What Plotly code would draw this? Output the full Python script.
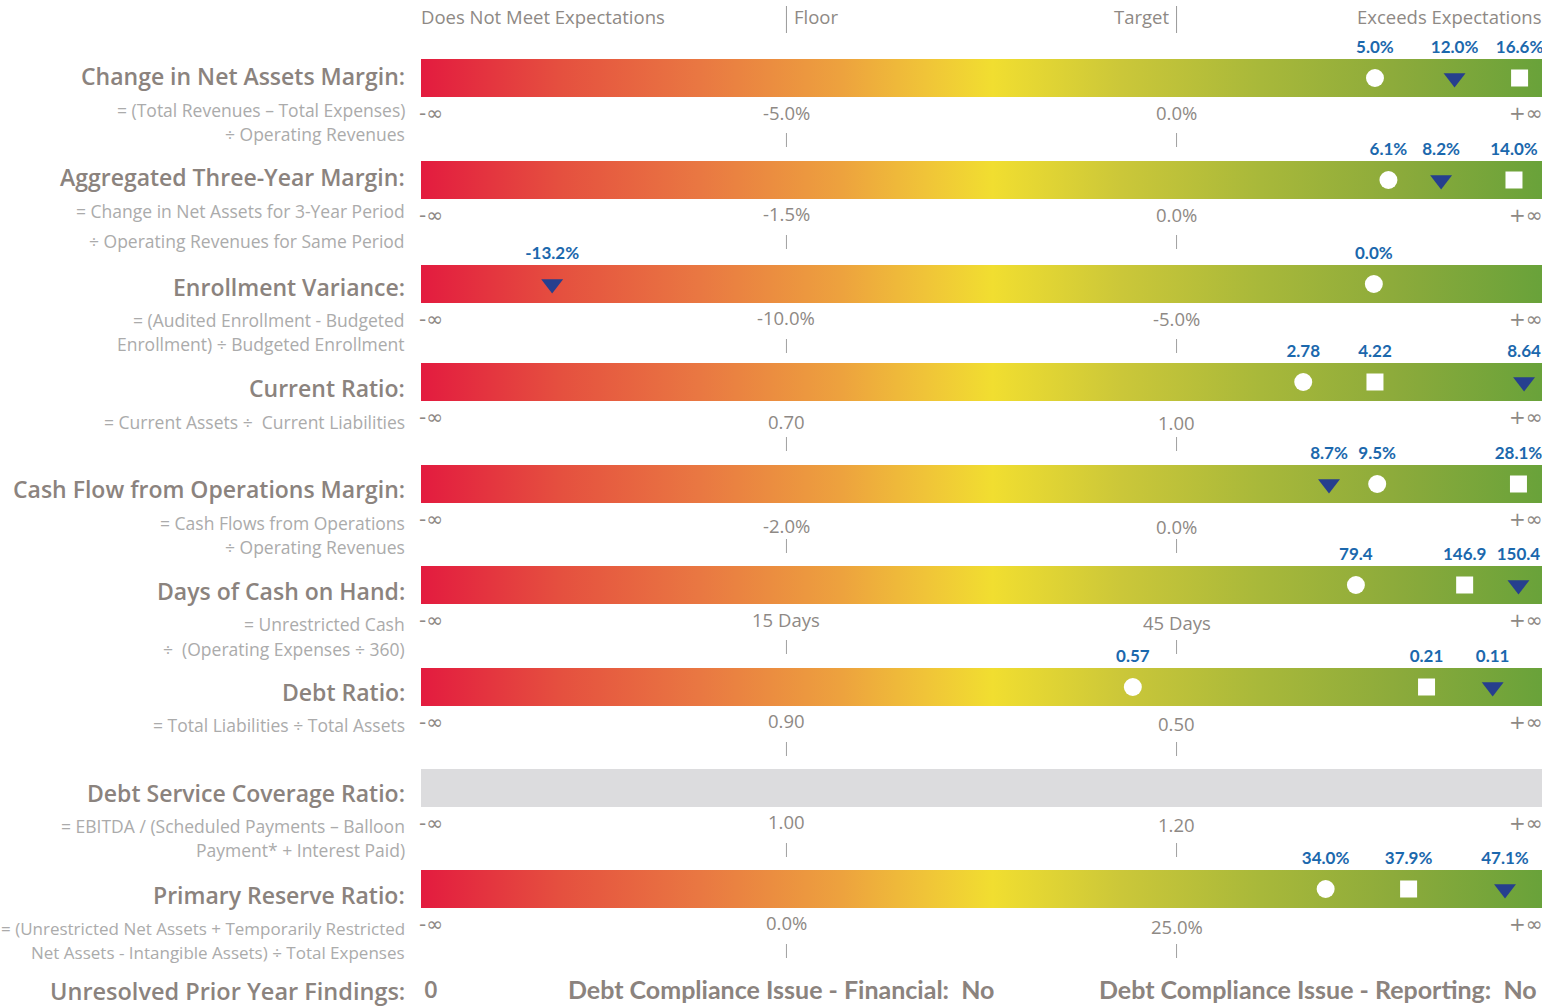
import plotly.graph_objects as go

# ---------------- data ----------------
metrics = [
    "Change in Net Assets Margin:",
    "Aggregated Three-Year Margin:",
    "Enrollment Variance:",
    "Current Ratio:",
    "Cash Flow from Operations Margin:",
    "Days of Cash on Hand:",
    "Debt Ratio:",
    "Debt Service Coverage Ratio:",
    "Primary Reserve Ratio:",
]
formula_line1 = [
    "= (Total Revenues – Total Expenses)",
    "= Change in Net Assets for 3-Year Period",
    "= (Audited Enrollment - Budgeted",
    "= Current Assets ÷  Current Liabilities",
    "= Cash Flows from Operations",
    "= Unrestricted Cash",
    "= Total Liabilities ÷ Total Assets",
    "= EBITDA / (Scheduled Payments – Balloon",
    "= (Unrestricted Net Assets + Temporarily Restricted",
]
formula_line2 = [
    "÷ Operating Revenues",
    "÷ Operating Revenues for Same Period",
    "Enrollment) ÷ Budgeted Enrollment",
    "",
    "÷ Operating Revenues",
    "÷  (Operating Expenses ÷ 360)",
    "",
    "Payment* + Interest Paid)",
    "Net Assets - Intangible Assets) ÷ Total Expenses",
]
floor_labels = ["-5.0%", "-1.5%", "-10.0%", "0.70", "-2.0%", "15 Days", "0.90", "1.00", "0.0%"]
target_labels = ["0.0%", "0.0%", "-5.0%", "1.00", "0.0%", "45 Days", "0.50", "1.20", "25.0%"]
has_data = [True, True, True, True, True, True, True, False, True]

# marker positions on the bar's 0-100 performance scale (-inf .. +inf)
floor_score = 32.6
target_score = 67.4
circle_pos = [85.1, 86.3, 85.0, 78.7, 85.3, 83.4, 63.5, None, 80.7]
circle_lbl = ["5.0%", "6.1%", "0.0%", "2.78", "9.5%", "79.4", "0.57", None, "34.0%"]
tri_pos = [92.2, 91.0, 11.7, 98.4, 81.0, 97.9, 95.6, None, 96.7]
tri_lbl = ["12.0%", "8.2%", "-13.2%", "8.64", "8.7%", "150.4", "0.11", None, "47.1%"]
sq_pos = [98.0, 97.5, None, 85.1, 97.9, 93.1, 89.7, None, 88.1]
sq_lbl = ["16.6%", "14.0%", None, "4.22", "28.1%", "146.9", "0.21", None, "37.9%"]

header_labels = ["Does Not Meet Expectations", "Floor", "Target", "Exceeds Expectations"]
footer_findings = ("Unresolved Prior Year Findings:", "0")
footer_fin = "Debt Compliance Issue - Financial:  No"
footer_rep = "Debt Compliance Issue - Reporting:  No"

# ---------------- layout constants ----------------
W, H = 1555, 1007
BAR_L, BAR_R = 421, 1542
row_y = [78, 180, 284, 382, 484, 585, 687, 788, 889]
BAR_H = 38
title_dy = [-2, -3, 3, 6, 5, 6, 5, 5, 6]
sub_dy = [32, 31, 36, 40, 39, 39, 38, 38, 39]
sub2_gap = [24, 30, 24, 24, 24, 25, 24, 24, 24]
sub_size = [17.5, 17.5, 17.5, 17.5, 17.5, 17.5, 17.5, 17.5, 17]
floor_dy = [34, 33, 33, 39, 41, 34, 33, 33, 33]
target_dy = [34, 34, 34, 40, 42, 37, 36, 36, 37]

TITLE_C = "#8B837E"
SUB_C = "#ABABAB"
TICK_C = "#8E8985"
LBL_C = "#1B68AD"
TRI_C = "#263F8E"
FONT = "Open Sans"

grad = [
    [0.0, "#E31B3F"], [0.125, "#E5503F"], [0.25, "#E97842"], [0.375, "#EDA23E"],
    [0.45, "#F0C438"], [0.51, "#F1DE30"], [0.625, "#CBC739"], [0.75, "#A8B83A"],
    [0.875, "#8BAA3B"], [1.0, "#69A23A"],
]

fig = go.Figure()

# bars
for i, y in enumerate(row_y):
    top, bot = y - BAR_H / 2, y + BAR_H / 2
    xs = [0, 100, 100, 0, 0]
    ys = [top, top, bot, bot, top]
    if has_data[i]:
        fig.add_trace(go.Scatter(
            x=xs, y=ys, xaxis="x2", yaxis="y", mode="lines", fill="toself",
            line=dict(width=0), fillgradient=dict(type="horizontal", colorscale=grad),
            hoverinfo="skip", showlegend=False))
    else:
        fig.add_trace(go.Scatter(
            x=xs, y=ys, xaxis="x2", yaxis="y", mode="lines", fill="toself",
            line=dict(width=0), fillcolor="#DCDCDE", hoverinfo="skip", showlegend=False))

# markers + value labels
def add_series(pos, lbl, symbol, color, size):
    xs, ys, ts = [], [], []
    for i, p in enumerate(pos):
        if p is None:
            continue
        xs.append(p)
        ys.append(row_y[i])
        ts.append(lbl[i])
    fig.add_trace(go.Scatter(
        x=xs, y=ys, xaxis="x2", yaxis="y", mode="markers",
        marker=dict(symbol=symbol, color=color, size=size, line=dict(width=0)),
        showlegend=False, hoverinfo="skip"))
    fig.add_trace(go.Scatter(
        x=xs, y=[y - 29 for y in ys], xaxis="x2", yaxis="y", mode="text",
        text=ts, textposition="middle center",
        textfont=dict(family="Lato", size=17, color=LBL_C, weight="bold"),
        showlegend=False, hoverinfo="skip"))

add_series(circle_pos, circle_lbl, "circle", "white", 18)
add_series(sq_pos, sq_lbl, "square", "white", 17)
add_series(tri_pos, tri_lbl, "triangle-down", TRI_C, 19)

ann = []
def text(x, y, s, size, color, anchor="center", weight="normal", xref="x", family=FONT):
    ann.append(dict(x=x, y=y, xref=xref, yref="y", text=s, showarrow=False,
                    xanchor=anchor, yanchor="middle",
                    font=dict(family=family, size=size, color=color, weight=weight)))

shapes = []
# header
text(BAR_L - 2, 16, header_labels[0], 18.5, TICK_C, "left")
text(792, 16, header_labels[1], 18.5, TICK_C, "left")
text(1171, 16, header_labels[2], 18.5, TICK_C, "right")
text(BAR_R + 2, 16, header_labels[3], 18.5, TICK_C, "right")
for s in (floor_score, target_score):
    shapes.append(dict(type="line", xref="x2", yref="y", x0=s, x1=s, y0=6, y1=33,
                       line=dict(color="#9A9A9A", width=1)))

for i, y in enumerate(row_y):
    text(407, y + title_dy[i], metrics[i], 23, TITLE_C, "right", weight=600)
    text(407, y + sub_dy[i], formula_line1[i], sub_size[i], SUB_C, "right")
    if formula_line2[i]:
        text(407, y + sub_dy[i] + sub2_gap[i], formula_line2[i], sub_size[i], SUB_C, "right")
    text(431, y + 35, "-∞", 20, TICK_C, family="DejaVu Sans")
    text(1525, y + 35, "+∞", 20, TICK_C, family="DejaVu Sans")
    text(floor_score, y + floor_dy[i], floor_labels[i], 18.5, TICK_C, xref="x2")
    text(target_score, y + target_dy[i], target_labels[i], 18.5, TICK_C, xref="x2")
    for s in (floor_score, target_score):
        shapes.append(dict(type="line", xref="x2", yref="y", x0=s, x1=s, y0=y + 55, y1=y + 69,
                           line=dict(color="#A0A0A0", width=1)))

# footer
text(407, 991, footer_findings[0], 23.5, TITLE_C, "right", weight=600)
text(431, 988, footer_findings[1], 24, TITLE_C, "center", weight=600)
text(781, 989, footer_fin, 25, TITLE_C, "center", weight="bold", family="Lato")
text(1318, 989, footer_rep, 25, TITLE_C, "center", weight="bold", family="Lato")

fig.update_layout(
    width=W, height=H, margin=dict(l=0, r=0, t=0, b=0),
    paper_bgcolor="white", plot_bgcolor="white",
    xaxis=dict(range=[0, W], visible=False, fixedrange=True, domain=[0, 1]),
    xaxis2=dict(domain=[BAR_L / W, BAR_R / W], range=[0, 100], visible=False,
                anchor="y", fixedrange=True),
    yaxis=dict(range=[H, 0], visible=False, fixedrange=True),
    annotations=ann, shapes=shapes, showlegend=False,
)

fig.write_html(
    "out.html",
    config={"displayModeBar": False},
    post_script="document.body.style.margin='0';document.body.style.overflow='hidden';",
)
